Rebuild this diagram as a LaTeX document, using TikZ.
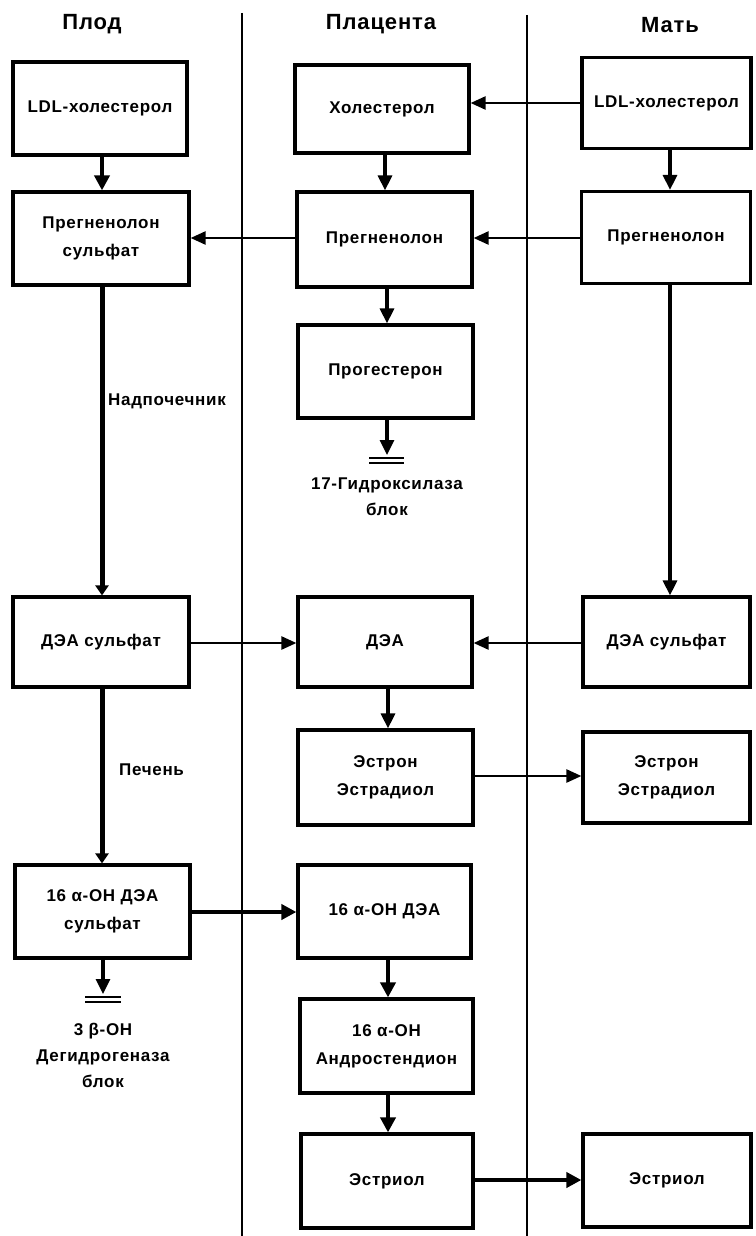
\documentclass[tikz,border=0pt]{standalone}
\usepackage{fontspec}
\setmainfont{Liberation Sans}
\newfontfamily\labfont[LetterSpace=4]{Liberation Sans}
\usetikzlibrary{arrows.meta}

\begin{document}
\begin{tikzpicture}[x=1pt,y=-1pt,
  box/.style={draw, line width=3.2pt, align=center, inner sep=2pt,
    font=\labfont\bfseries\fontsize{17}{28}\selectfont},
  lbl/.style={align=center, inner sep=0pt,
    font=\labfont\bfseries\fontsize{17}{26}\selectfont},
  head/.style={inner sep=0pt, font=\labfont\bfseries\fontsize{22}{24}\selectfont},
  divider/.style={line width=2pt},
  thinarr/.style={line width=2.4pt, -{Triangle[length=15pt,width=13pt]}},
  midarr/.style={line width=3.2pt, -{Triangle[length=15pt,width=14pt]}},
  thickarr/.style={line width=4.5pt, -{Triangle[length=15pt,width=15pt]}},
  longarr/.style={line width=5pt, -{Triangle[length=10pt,width=13pt]}},
  blockbar/.style={line width=2pt}
]
\useasboundingbox[fill=white] (0,0) rectangle (755,1236);

% column dividers
\draw[divider] (242,13) -- (242,1236);
\draw[divider] (527,15) -- (527,1236);

% column headings
\node[head] (hF) at (92,24) {Плод};
\node[head] (hP) at (381,24) {Плацента};
\node[head] (hM) at (670,25) {Мать};

% fetus
\node[box, minimum width=174pt, minimum height=93pt] (fLDL) at (100,108.5) {LDL-холестерол};
\node[box, minimum width=176pt, minimum height=93pt] (fPreg) at (101,238.5) {Прегненолон\\сульфат};
\node[box, minimum width=176pt, minimum height=90pt] (fDHEAS) at (101,642) {ДЭА сульфат};
\node[box, minimum width=175pt, minimum height=93pt] (f16) at (102.5,911.5) {16 α-ОН ДЭА\\сульфат};

% placenta
\node[box, minimum width=174pt, minimum height=88pt] (pChol) at (382,109) {Холестерол};
\node[box, minimum width=175pt, minimum height=95pt] (pPreg) at (384.5,239.5) {Прегненолон};
\node[box, minimum width=175pt, minimum height=93pt] (pProg) at (385.5,371.5) {Прогестерон};
\node[box, minimum width=174pt, minimum height=90pt] (pDHEA) at (385,642) {ДЭА};
\node[box, minimum width=175pt, minimum height=95pt] (pEst) at (385.5,777.5) {Эстрон\\Эстрадиол};
\node[box, minimum width=173pt, minimum height=93pt] (p16) at (384.5,911.5) {16 α-ОН ДЭА};
\node[box, minimum width=173pt, minimum height=94pt] (pAndro) at (386.5,1046) {16 α-ОН\\Андростендион};
\node[box, minimum width=172pt, minimum height=94pt] (pEstriol) at (387,1181) {Эстриол};

% mother
\node[box, minimum width=169pt, minimum height=91pt] (mLDL) at (666.5,103) {LDL-холестерол};
\node[box, minimum width=169pt, minimum height=92pt] (mPreg) at (666,237.5) {Прегненолон};
\node[box, minimum width=167pt, minimum height=90pt] (mDHEAS) at (666.5,642) {ДЭА сульфат};
\node[box, minimum width=167pt, minimum height=91pt] (mEst) at (666.5,777.5) {Эстрон\\Эстрадиол};
\node[box, minimum width=168pt, minimum height=93pt] (mEstriol) at (667,1180.5) {Эстриол};

% blocked steps
\coordinate (progBlock) at (387,455);
\coordinate (fetBlock) at (103,994);
\node[lbl] (progTxt) at (387,497) {17-Гидроксилаза\\блок};
\node[lbl] (fetTxt) at (103,1055) {3 β-ОН\\Дегидрогеназа\\блок};

% side labels on the fetal pathway
\node[lbl, anchor=west] (adrenal) at (108,401) {Надпочечник};
\node[lbl, anchor=west] (liver) at (119,770) {Печень};

% fetal pathway
\draw[thickarr] (fLDL.south -| 102,0) -- (fPreg.north -| 102,0);
\draw[longarr] (fPreg.south -| 102,0) -- (fDHEAS.north -| 102,0);
\draw[longarr] (fDHEAS.south -| 102,0) -- (f16.north -| 102,0);
\draw[midarr] (f16.south -| fetBlock) -- (fetBlock);
\draw[blockbar] ([xshift=-18pt,yshift=-2.5pt]fetBlock) -- ([xshift=18pt,yshift=-2.5pt]fetBlock);
\draw[blockbar] ([xshift=-18pt,yshift=-7.5pt]fetBlock) -- ([xshift=18pt,yshift=-7.5pt]fetBlock);

% placental pathway
\draw[midarr] (pChol.south -| 385,0) -- (pPreg.north -| 385,0);
\draw[midarr] (pPreg.south -| progBlock) -- (pProg.north -| progBlock);
\draw[midarr] (pProg.south -| progBlock) -- (progBlock);
\draw[blockbar] ([xshift=-18pt,yshift=-2.5pt]progBlock) -- ([xshift=17pt,yshift=-2.5pt]progBlock);
\draw[blockbar] ([xshift=-18pt,yshift=-7.5pt]progBlock) -- ([xshift=17pt,yshift=-7.5pt]progBlock);
\draw[midarr] (pDHEA.south -| 388,0) -- (pEst.north -| 388,0);
\draw[thickarr] (p16.south -| 388,0) -- (pAndro.north -| 388,0);
\draw[thickarr] (pAndro.south -| 388,0) -- (pEstriol.north -| 388,0);

% maternal pathway
\draw[midarr] (mLDL.south -| 670,0) -- (mPreg.north -| 670,0);
\draw[midarr] (mPreg.south -| 670,0) -- (mDHEAS.north -| 670,0);

% exchange across the placenta
\draw[thinarr] (mLDL.west) -- (mLDL.west -| pChol.east);
\draw[thinarr] (pPreg.west |- 0,238) -- (fPreg.east |- 0,238);
\draw[thinarr] (mPreg.west |- 0,238) -- (pPreg.east |- 0,238);
\draw[thinarr] (fDHEAS.east |- 0,643) -- (pDHEA.west |- 0,643);
\draw[thinarr] (mDHEAS.west |- 0,643) -- (pDHEA.east |- 0,643);
\draw[thinarr] (pEst.east |- 0,776) -- (mEst.west |- 0,776);
\draw[thickarr] (f16.east |- 0,912) -- (p16.west |- 0,912);
\draw[thickarr] (pEstriol.east |- 0,1180) -- (mEstriol.west |- 0,1180);
\end{tikzpicture}
\end{document}
